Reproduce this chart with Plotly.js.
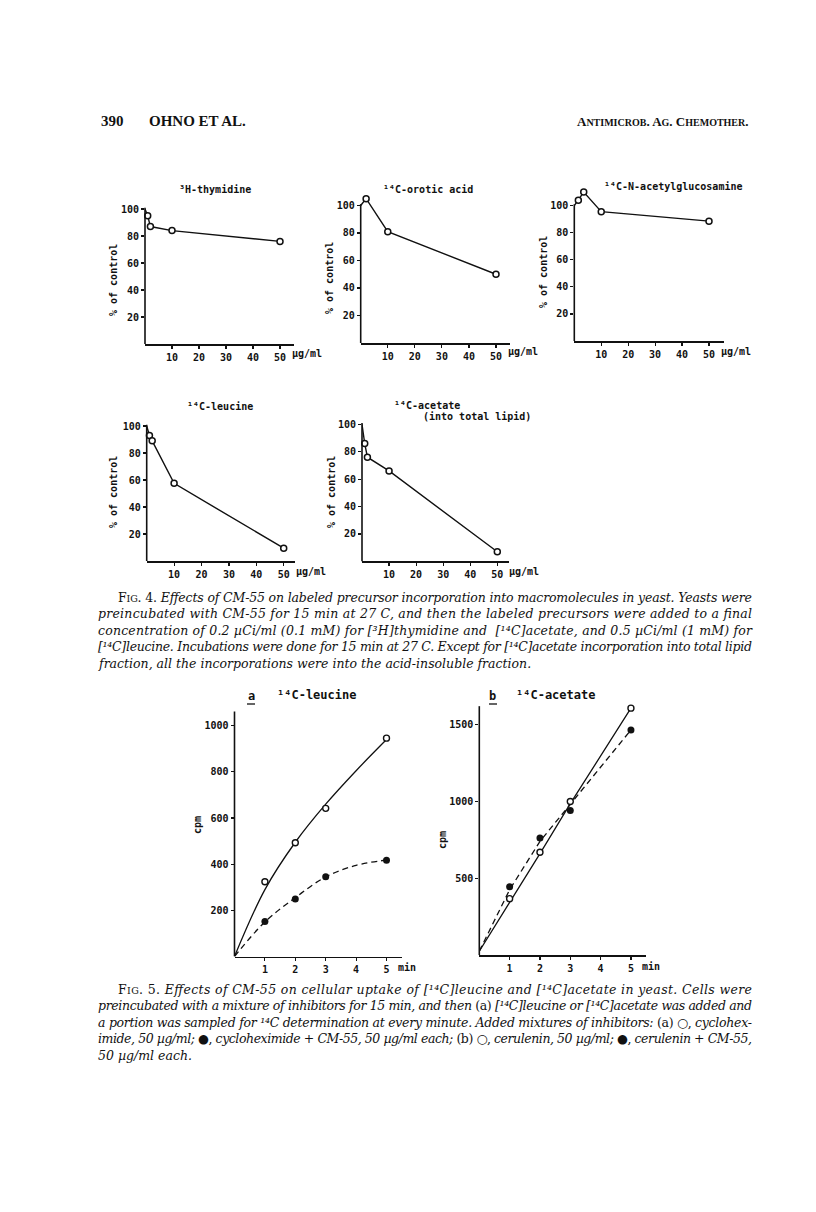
<!DOCTYPE html>
<html><head><meta charset="utf-8">
<script src="https://cdn.plot.ly/plotly-3.0.1.min.js"></script>
<style>body{margin:0;background:#fff}</style></head>
<body><div id="chart" style="width:816px;height:1212px"></div>
<script>
// ---------- Fig. 4 data: % of control vs CM-55 concentration (µg/ml) ----------
const thymidineX = [0, 1, 2, 10, 50];
const thymidineY = [100, 95, 87, 84, 76];
const oroticX = [0, 2, 10, 50];
const oroticY = [100, 105, 81, 50];
const glcnacX = [0, 1.5, 3.5, 10, 50];
const glcnacY = [100, 104, 110, 95.5, 88.5];
const leucine4X = [0, 1, 2, 10, 50];
const leucine4Y = [100, 93, 89, 57.5, 9.5];
const acetate4X = [0, 1, 2, 10, 50];
const acetate4Y = [100, 86, 76, 66, 7];
const fig4YTicks = [20, 40, 60, 80, 100];
const fig4XTicks = [10, 20, 30, 40, 50];

// ---------- Fig. 5 data: cpm vs time (min) ----------
const minutes = [1, 2, 3, 5];
const leuOpen = [324, 493, 642, 946];
const leuFilled = [152, 249, 345, 417];
const leuCurveX = [0, 1, 2, 3, 4, 5];
const leuOpenCurve = [0, 290, 495, 660, 805, 940];
const leuFilledCurve = [0, 150, 255, 345, 395, 418];
const aceOpen = [367, 669, 999, 1607];
const aceFilled = [445, 762, 940, 1465];
const aceLineX = [0, 1, 2, 3, 5];
const aceOpenLine = [25, 340, 660, 985, 1607];
const aceFilledLine = [25, 425, 740, 980, 1465];
const fig5XTicks = [1, 2, 3, 4, 5];
const leuYTicks = [200, 400, 600, 800, 1000];
const aceYTicks = [500, 1000, 1500];

// ---------- page geometry ----------
const W = 816, H = 1212;
const px = v => v / W;
const py = v => 1 - v / H;
const MONO = 'DejaVu Sans Mono';
const SERIF = 'DejaVu Serif';

// ymax = plotted range top; ytop = where the drawn y-axis line ends
const panels = [
  {n: 1, left: 145,   ppx: 2.70,  xmax: 55,  bottom: 344,   ppy: 1.35,   ymax: 115, ytop: 101, yt: fig4YTicks, xt: fig4XTicks},
  {n: 2, left: 360.7, ppx: 2.706, xmax: 55,  bottom: 343,   ppy: 1.375,  ymax: 115, ytop: 101, yt: fig4YTicks, xt: fig4XTicks},
  {n: 3, left: 574.3, ppx: 2.694, xmax: 55.5,bottom: 341,   ppy: 1.354,  ymax: 115, ytop: 101, yt: fig4YTicks, xt: fig4XTicks},
  {n: 4, left: 146.7, ppx: 2.74,  xmax: 54,  bottom: 561,   ppy: 1.35,   ymax: 115, ytop: 101, yt: fig4YTicks, xt: fig4XTicks},
  {n: 5, left: 362,   ppx: 2.706, xmax: 54.5,bottom: 561.4, ppy: 1.371,  ymax: 115, ytop: 101, yt: fig4YTicks, xt: fig4XTicks},
  {n: 6, left: 234.5, ppx: 30.4,  xmax: 5.5, bottom: 956.5, ppy: 0.2308, ymax: 1100, ytop: 1062, yt: leuYTicks, xt: fig5XTicks},
  {n: 7, left: 479.3, ppx: 30.33, xmax: 5.5, bottom: 955,   ppy: 0.1536, ymax: 1680, ytop: 1620, yt: aceYTicks, xt: fig5XTicks}
];

const layout = {
  width: W, height: H, margin: {l: 0, r: 0, t: 0, b: 0},
  paper_bgcolor: '#fff', plot_bgcolor: 'rgba(0,0,0,0)',
  showlegend: false, font: {family: MONO, color: '#111'},
  annotations: [], shapes: []
};

panels.forEach(p => {
  const xs = p.n === 1 ? '' : p.n, ys = xs;
  const tf = {family: MONO, size: 10, weight: 'bold', color: '#111'};
  const axBase = {
    linecolor: '#111', linewidth: 1.6, showgrid: false, zeroline: false,
    ticks: 'outside', ticklen: 3, tickwidth: 1.2, tickcolor: '#111', fixedrange: true, tickfont: tf
  };
  layout['xaxis' + xs] = Object.assign({}, axBase, {
    showline: true,
    domain: [px(p.left), px(p.left + p.ppx * p.xmax)], range: [0, p.xmax],
    tickvals: p.xt, anchor: 'y' + xs
  });
  layout['yaxis' + ys] = Object.assign({}, axBase, {
    showline: false,
    domain: [py(p.bottom), py(p.bottom - p.ppy * p.ymax)], range: [0, p.ymax],
    tickvals: p.yt, anchor: 'x' + xs
  });
  // y-axis line stops at the top of the scale, as in the print
  layout.shapes.push({type: 'line', xref: 'x' + xs + ' domain', yref: 'y' + ys,
    x0: 0, x1: 0, y0: 0, y1: p.ytop, line: {color: '#111', width: 1.6}});
});

const traces = [];
function fig4(xArr, yArr, n) {
  const ax = n === 1 ? '' : n;
  traces.push({x: xArr, y: yArr, xaxis: 'x' + ax, yaxis: 'y' + ax, mode: 'lines',
    line: {color: '#111', width: 1.4}, cliponaxis: false, hoverinfo: 'skip'});
  traces.push({x: xArr.slice(1), y: yArr.slice(1), xaxis: 'x' + ax, yaxis: 'y' + ax, mode: 'markers',
    marker: {symbol: 'circle', size: 6, color: '#fff', line: {color: '#111', width: 1.5}},
    cliponaxis: false, hoverinfo: 'skip'});
}
fig4(thymidineX, thymidineY, 1);
fig4(oroticX, oroticY, 2);
fig4(glcnacX, glcnacY, 3);
fig4(leucine4X, leucine4Y, 4);
fig4(acetate4X, acetate4Y, 5);

function fig5(cx, openLine, filledLine, openPts, filledPts, n, shape) {
  const ax = n;
  traces.push({x: cx, y: openLine, xaxis: 'x' + ax, yaxis: 'y' + ax, mode: 'lines',
    line: {color: '#111', width: 1.3, shape: shape, smoothing: 1}, cliponaxis: false});
  traces.push({x: cx, y: filledLine, xaxis: 'x' + ax, yaxis: 'y' + ax, mode: 'lines',
    line: {color: '#111', width: 1.3, dash: '6px,4px', shape: shape, smoothing: 1}, cliponaxis: false});
  traces.push({x: minutes, y: openPts, xaxis: 'x' + ax, yaxis: 'y' + ax, mode: 'markers',
    marker: {symbol: 'circle', size: 6, color: '#fff', line: {color: '#111', width: 1.4}}, cliponaxis: false});
  traces.push({x: minutes, y: filledPts, xaxis: 'x' + ax, yaxis: 'y' + ax, mode: 'markers',
    marker: {symbol: 'circle', size: 7, color: '#111', line: {color: '#111', width: 0}}, cliponaxis: false});
}
fig5(leuCurveX, leuOpenCurve, leuFilledCurve, leuOpen, leuFilled, 6, 'spline');
fig5(aceLineX, aceOpenLine, aceFilledLine, aceOpen, aceFilled, 7, 'linear');

// ---------- text ----------
function A(text, x, y, o) {
  layout.annotations.push(Object.assign({
    text: text, x: px(x), y: py(y), xref: 'paper', yref: 'paper', showarrow: false,
    xanchor: 'center', yanchor: 'middle', font: {family: MONO, size: 10, weight: 'bold', color: '#111'}
  }, o || {}));
}
// panel titles
A('³H-thymidine', 215, 189);
A('¹⁴C-orotic acid', 428, 189);
A('¹⁴C-N-acetylglucosamine', 673, 186);
A('¹⁴C-leucine', 220, 406);
A('¹⁴C-acetate', 427, 405);
A('(into total lipid)', 477, 417);
// y titles
[[113, 280], [329, 278], [543, 272], [113, 492], [331, 492]].forEach(p =>
  A('% of control', p[0], p[1], {textangle: -90}));
A('cpm', 197, 825, {textangle: -90});
A('cpm', 443, 840, {textangle: -90});
// unit labels after last tick
function unit(text, n, xval, yPix, shift) {
  layout.annotations.push({text: text, x: xval, xref: 'x' + n, y: py(yPix), yref: 'paper',
    xanchor: 'left', yanchor: 'middle', xshift: shift, showarrow: false,
    font: {family: MONO, size: 10, weight: 'bold', color: '#111'}});
}
unit('µg/ml', '', 50, 353, 10);
unit('µg/ml', 2, 50, 352, 10);
unit('µg/ml', 3, 50, 351, 10);
unit('µg/ml', 4, 50, 571, 10);
unit('µg/ml', 5, 50, 571, 10);
unit('min', 6, 5, 967, 9);
unit('min', 7, 5, 966, 9);
// Fig 5 titles
const t5 = {family: MONO, size: 12, weight: 'bold', color: '#111'};
A('a', 251, 696, {font: t5});
A('¹⁴C-leucine', 316, 695, {font: t5});
A('b', 493, 696, {font: t5});
A('¹⁴C-acetate', 555, 695, {font: t5});
layout.shapes.push({type: 'line', xref: 'paper', yref: 'paper', x0: px(247), x1: px(255), y0: py(704), y1: py(704), line: {color: '#111', width: 1.3}});
layout.shapes.push({type: 'line', xref: 'paper', yref: 'paper', x0: px(489), x1: px(497), y0: py(704), y1: py(704), line: {color: '#111', width: 1.3}});

// page header
const hdr = {family: 'Liberation Serif', size: 15, weight: 'bold', color: '#111'};
A('390', 99, 121, {xanchor: 'left', font: hdr});
A('OHNO ET AL.', 147, 121, {xanchor: 'left', font: hdr});
const sc = s => '<span style="font-size:10px">' + s + '</span>';
A('A' + sc('NTIMICROB') + '. A' + sc('G') + '. C' + sc('HEMOTHER') + '.', 575, 121,
  {xanchor: 'left', font: {family: 'Liberation Serif', size: 13, weight: 'bold', color: '#111'}});

// captions
const capFont = {family: SERIF, size: 12.5, color: '#111'};
const sc2 = s => '<span style="font-size:9.5px">' + s + '</span>';
const fig4Caption = [
  'F' + sc2('IG') + '. 4. <i>Effects of CM-55 on labeled precursor incorporation into macromolecules in yeast. Yeasts were</i>',
  '<i>preincubated with CM-55 for 15 min at 27 C, and then the labeled precursors were added to a final</i>',
  '<i>concentration of 0.2 µCi/ml (0.1 mM) for [³H]thymidine and  [¹⁴C]acetate, and 0.5 µCi/ml (1 mM) for</i>',
  '<i>[¹⁴C]leucine. Incubations were done for 15 min at 27 C. Except for [¹⁴C]acetate incorporation into total lipid</i>',
  '<i>fraction, all the incorporations were into the acid-insoluble fraction.</i>'
];
const fig4CapY = [597, 613.5, 630, 646.5, 663];
const fig5Caption = [
  'F' + sc2('IG') + '. 5. <i>Effects of CM-55 on cellular uptake of [¹⁴C]leucine and [¹⁴C]acetate in yeast. Cells were</i>',
  '<i>preincubated with a mixture of inhibitors for 15 min, and then</i> (a) <i>[¹⁴C]leucine or [¹⁴C]acetate was added and</i>',
  '<i>a portion was sampled for ¹⁴C determination at every minute. Added mixtures of inhibitors:</i> (a) ○, <i>cyclohex-</i>',
  '<i>imide, 50 µg/ml;</i> ●, <i>cycloheximide + CM-55, 50 µg/ml each;</i> (b) ○, <i>cerulenin, 50 µg/ml;</i> ●, <i>cerulenin + CM-55,</i>',
  '<i>50 µg/ml each.</i>'
];
const fig5CapY = [989, 1005.5, 1022, 1038.5, 1055];
const capInfo = [];
fig4Caption.forEach((t, i) => { const l = i === 0 ? 118 : 98; A(t, l, fig4CapY[i], {xanchor: 'left', font: capFont}); capInfo.push({left: l, just: i < 4}); });
fig5Caption.forEach((t, i) => { const l = i === 0 ? 118 : 98; A(t, l, fig5CapY[i], {xanchor: 'left', font: capFont}); capInfo.push({left: l, just: i < 4}); });

Plotly.newPlot('chart', traces, layout, {staticPlot: true}).then(() => {
  // justify full caption lines between their left edge and the right margin (752 px)
  const capStart = layout.annotations.length - 10;
  const nodes = document.querySelectorAll('.annotation');
  for (let k = 0; k < 10; k++) {
    const node = nodes[capStart + k];
    if (!node) continue;
    const txt = node.querySelector('text');
    if (!txt) continue;
    if (capInfo[k].just) {
      txt.setAttribute('textLength', 752 - capInfo[k].left);
      txt.setAttribute('lengthAdjust', 'spacing');
    }
    const r = txt.getBoundingClientRect();
    const dx = capInfo[k].left - r.left;
    const old = txt.getAttribute('transform') || '';
    txt.setAttribute('transform', 'translate(' + dx + ',0) ' + old);
  }
});
</script></body></html>
